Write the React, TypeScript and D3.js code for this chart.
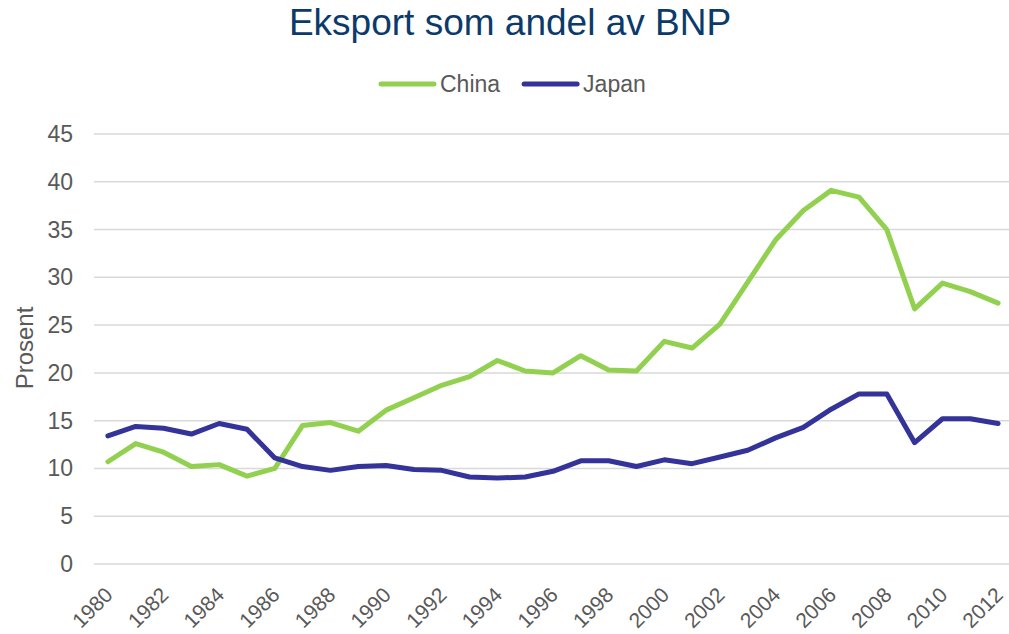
import React, { useEffect, useRef } from 'react';
import * as d3 from 'd3';

const years = d3.range(1980, 2013);
const yTicks = [0, 5, 10, 15, 20, 25, 30, 35, 40, 45];

const china = [
  10.7, 12.6, 11.7, 10.2, 10.4, 9.2, 10.0, 14.5, 14.8, 13.9,
  16.1, 17.4, 18.7, 19.6, 21.3, 20.2, 20.0, 21.8, 20.3, 20.2,
  23.3, 22.6, 25.1, 29.5, 33.9, 37.0, 39.1, 38.4, 35.0, 26.7,
  29.4, 28.5, 27.3,
];
const japan = [
  13.4, 14.4, 14.2, 13.6, 14.7, 14.1, 11.1, 10.2, 9.8, 10.2,
  10.3, 9.9, 9.8, 9.1, 9.0, 9.1, 9.7, 10.8, 10.8, 10.2,
  10.9, 10.5, 11.2, 11.9, 13.2, 14.3, 16.2, 17.8, 17.8, 12.7,
  15.2, 15.2, 14.7,
];

const series = [
  { name: 'China', values: china, color: '#92D050' },
  { name: 'Japan', values: japan, color: '#333399' },
];

const W = 1009;
const H = 634;
const FONT = '"Liberation Sans", Arial, sans-serif';

const App: React.FC = () => {
  const svgRef = useRef<SVGSVGElement>(null);

  useEffect(() => {
    if (!svgRef.current) return;
    const svg = d3.select(svgRef.current);
    svg.selectAll('*').remove();

    const margin = { top: 134, right: -3, bottom: 70, left: 94 };
    const width = W - margin.left - margin.right;
    const height = H - margin.top - margin.bottom;

    // Title
    svg.append('text')
      .attr('x', 510)
      .attr('y', 35)
      .attr('text-anchor', 'middle')
      .style('font-family', FONT)
      .style('font-size', '37px')
      .style('fill', '#0B3A6B')
      .text('Eksport som andel av BNP');

    // Legend
    const legend = svg.append('g').attr('transform', 'translate(381,84)');
    let lx = 0;
    series.forEach(s => {
      legend.append('line')
        .attr('x1', lx).attr('x2', lx + 53)
        .attr('y1', 0).attr('y2', 0)
        .attr('stroke', s.color)
        .attr('stroke-width', 5)
        .attr('stroke-linecap', 'round');
      const t = legend.append('text')
        .attr('x', lx + 59)
        .attr('y', 8)
        .style('font-family', FONT)
        .style('font-size', '23px')
        .style('fill', '#595959')
        .text(s.name);
      const tw = (t.node() as SVGTextElement).getComputedTextLength();
      lx += 59 + tw + 24;
    });

    const g = svg.append('g')
      .attr('transform', `translate(${margin.left},${margin.top})`);

    const x = d3.scalePoint<number>()
      .domain(years)
      .range([0, width])
      .padding(0.5);

    const y = d3.scaleLinear()
      .domain([0, 45])
      .range([height, 0]);

    // Grid
    g.append('g')
      .selectAll('line')
      .data(yTicks)
      .enter()
      .append('line')
      .attr('x1', 0)
      .attr('x2', width)
      .attr('y1', d => y(d))
      .attr('y2', d => y(d))
      .attr('stroke', '#D9D9D9')
      .attr('stroke-width', 1.5);

    // Y axis labels
    g.append('g')
      .selectAll('text')
      .data(yTicks)
      .enter()
      .append('text')
      .attr('x', -21)
      .attr('y', d => y(d) + 8)
      .attr('text-anchor', 'end')
      .style('font-family', FONT)
      .style('font-size', '23px')
      .style('fill', '#595959')
      .text(d => d);

    // X axis labels
    g.append('g')
      .selectAll('text')
      .data(years.filter(yr => yr % 2 === 0))
      .enter()
      .append('text')
      .attr('transform', d => `translate(${(x(d) || 0) + 1},${height + 27}) rotate(-45)`)
      .attr('text-anchor', 'end')
      .attr('dy', '0.35em')
      .style('font-family', FONT)
      .style('font-size', '21px')
      .style('fill', '#595959')
      .text(d => d);

    // Y axis title
    svg.append('text')
      .attr('transform', 'translate(33,348) rotate(-90)')
      .attr('text-anchor', 'middle')
      .style('font-family', FONT)
      .style('font-size', '24px')
      .style('fill', '#595959')
      .text('Prosent');

    // Lines
    const line = d3.line<number>()
      .x((_, i) => x(years[i]) || 0)
      .y(d => y(d));

    series.forEach(s => {
      g.append('path')
        .datum(s.values)
        .attr('fill', 'none')
        .attr('stroke', s.color)
        .attr('stroke-width', 5)
        .attr('stroke-linejoin', 'round')
        .attr('stroke-linecap', 'round')
        .attr('d', line);
    });
  }, []);

  return (
    <svg
      ref={svgRef}
      width={W}
      height={H}
      style={{ position: 'absolute', left: 0, top: 0, background: '#fff' }}
    />
  );
};

export default App;
